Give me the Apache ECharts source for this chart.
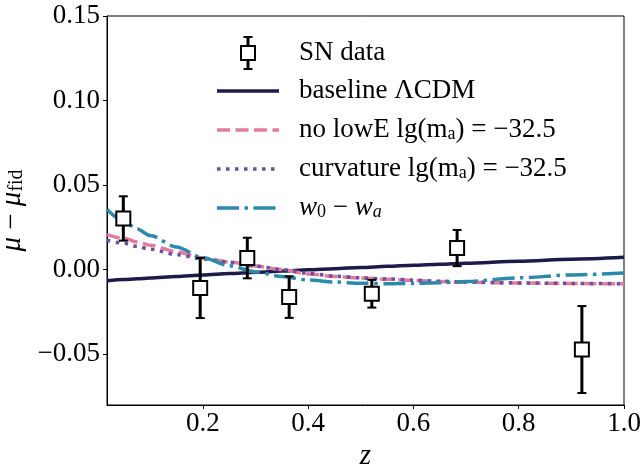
<!DOCTYPE html>
<html><head><meta charset="utf-8">
<script src="https://cdn.jsdelivr.net/npm/echarts@6/dist/echarts.min.js"></script>
<style>html,body{margin:0;padding:0;background:#fff}#c{width:642px;height:464px}</style>
</head><body><div id="c"></div>
<script>
// ---- data ----
const snZ   = [0.049, 0.195, 0.2845, 0.364, 0.521, 0.683, 0.920];
const snMu  = [0.0303, -0.0108, 0.0069, -0.0162, -0.0142, 0.0128, -0.0472];
const snErr = [0.0131, 0.0178, 0.0120, 0.0123, 0.0082, 0.0107, 0.0257];

const zGrid = [0.018, 0.05, 0.075, 0.1, 0.15, 0.2, 0.25, 0.3, 0.35, 0.4, 0.45, 0.5, 0.55, 0.6, 0.65, 0.7, 0.8, 0.9, 1.0];
const baseline = [-0.0065, -0.0058, -0.0054, -0.0049, -0.0040, -0.0031, -0.0023, -0.0015, -0.0008, -0.0001, 0.0006, 0.0013, 0.0020, 0.0026, 0.0032, 0.0038, 0.0050, 0.0062, 0.0073];
const noLowE   = [0.0207, 0.0185, 0.0164, 0.0145, 0.0106, 0.0069, 0.0045, 0.0022, 0.0001, -0.0025, -0.0040, -0.0049, -0.0056, -0.0063, -0.0070, -0.0074, -0.0079, -0.0082, -0.0084];
const curvature= [0.0174, 0.0156, 0.0138, 0.0121, 0.0089, 0.0064, 0.0044, 0.0021, 0.0001, -0.0022, -0.0038, -0.0048, -0.0055, -0.0062, -0.0068, -0.0073, -0.0078, -0.0081, -0.0083];
const w0wa     = [0.0356, 0.0288, 0.0241, 0.0202, 0.0134, 0.0071, 0.0024, -0.0013, -0.0040, -0.0061, -0.0073, -0.0080, -0.0083, -0.0081, -0.0077, -0.0070, -0.0048, -0.0031, -0.0019];

const xTicks = [0.2, 0.4, 0.6, 0.8, 1.0];
const xTickLabels = ['0.2', '0.4', '0.6', '0.8', '1.0'];
const yTicks = [-0.05, 0, 0.05, 0.10, 0.15];
const yTickLabels = ['\u22120.05', '0.00', '0.05', '0.10', '0.15'];

// ---- styling ----
const FONT = 'Liberation Serif';
const C_BASE = '#1b1c4a', C_PINK = '#e57b9c', C_PURP = '#6c4f9f', C_CYAN = '#2b8aab';
const LW = 3.5;

const pair = (xs, ys) => xs.map((x, i) => [x, ys[i]]);
const chart = echarts.init(document.getElementById('c'), null, {renderer: 'canvas'});

const legendRows = [53, 91, 130, 169, 208];
const LX1 = 217, LX2 = 279, TX = 299;
const rich = {
  n: {fontFamily: FONT, fontSize: 27, color: '#000'},
  i: {fontFamily: FONT, fontSize: 27, fontStyle: 'italic', color: '#000'},
  s: {fontFamily: FONT, fontSize: 18, color: '#000', verticalAlign: 'bottom', lineHeight: 22, padding: [14, 0, 0, 0]},
  si: {fontFamily: FONT, fontSize: 18, fontStyle: 'italic', color: '#000', verticalAlign: 'bottom', lineHeight: 22, padding: [14, 0, 0, 0]}
};
const richY = {
  n: {fontFamily: FONT, fontSize: 29, color: '#000'},
  i: {fontFamily: FONT, fontSize: 29, fontStyle: 'italic', color: '#000'},
  s: {fontFamily: FONT, fontSize: 20, color: '#000', verticalAlign: 'bottom', lineHeight: 22, padding: [14, 0, 0, 0]}
};
function legLine(y, color, dash) {
  return {type: 'line', shape: {x1: LX1, y1: y, x2: LX2, y2: y},
    style: {stroke: color, lineWidth: LW, lineDash: dash || null}, z: 100};
}
function legText(y, txt) {
  return {type: 'text', x: TX, y: y, style: {text: txt, rich: rich, verticalAlign: 'middle', align: 'left'}, z: 100};
}
const sy = legendRows[0], sx = (LX1 + LX2) / 2;
const graphics = [
  {type: 'line', shape: {x1: sx, y1: sy - 16, x2: sx, y2: sy + 16}, style: {stroke: '#000', lineWidth: 3}, z: 100},
  {type: 'line', shape: {x1: sx - 4.5, y1: sy - 16, x2: sx + 4.5, y2: sy - 16}, style: {stroke: '#000', lineWidth: 2}, z: 100},
  {type: 'line', shape: {x1: sx - 4.5, y1: sy + 16, x2: sx + 4.5, y2: sy + 16}, style: {stroke: '#000', lineWidth: 2}, z: 100},
  {type: 'rect', shape: {x: sx - 7, y: sy - 7, width: 14, height: 14}, style: {fill: '#fff', stroke: '#000', lineWidth: 2}, z: 101},
  legText(legendRows[0], '{n|SN data}'),
  legLine(legendRows[1], C_BASE),
  legText(legendRows[1], '{n|baseline \u039BCDM}'),
  legLine(legendRows[2], C_PINK, [13, 5.5]),
  legText(legendRows[2], '{n|no lowE lg(m}{s|a}{n|) = \u221232.5}'),
  legLine(legendRows[3], C_PURP, [3.5, 5.5]),
  legText(legendRows[3], '{n|curvature lg(m}{s|a}{n|) = \u221232.5}'),
  legLine(legendRows[4], C_CYAN, [22, 5.5, 3.5, 5.5]),
  legText(legendRows[4], '{i|w}{s|0}{n| \u2212 }{i|w}{si|a}')
];

const option = {
  animation: false,
  backgroundColor: '#fff',
  grid: {left: 107, right: 18, top: 16, bottom: 59, containLabel: false, outerBoundsMode: 'none',
         show: true, borderColor: '#000', borderWidth: 1},
  xAxis: {
    type: 'value', min: 0.018, max: 1.0,
    name: 'z', nameLocation: 'middle', nameGap: 33,
    nameTextStyle: {fontFamily: FONT, fontSize: 29, fontStyle: 'italic', color: '#000'},
    axisLine: {show: true, onZero: false, lineStyle: {color: '#000', width: 1}},
    axisTick: {show: true, inside: false, length: 4, customValues: xTicks, lineStyle: {color: '#000'}},
    axisLabel: {customValues: xTicks, margin: 5, fontFamily: FONT, fontSize: 27, color: '#000',
      formatter: v => { const k = xTicks.findIndex(t => Math.abs(t - v) < 1e-9); return k >= 0 ? xTickLabels[k] : ''; }},
    splitLine: {show: false}
  },
  yAxis: {
    type: 'value', min: -0.08, max: 0.15,
    name: '{i|\u03BC}{n| \u2212 }{i|\u03BC}{s|fid}', nameLocation: 'middle', nameRotate: 90, nameGap: 65,
    nameTextStyle: {rich: richY},
    axisLine: {show: true, onZero: false, lineStyle: {color: '#000', width: 1}},
    axisTick: {show: true, inside: false, length: 4, customValues: yTicks, lineStyle: {color: '#000'}},
    axisLabel: {customValues: yTicks, margin: 7, fontFamily: FONT, fontSize: 27, color: '#000',
      formatter: v => { const k = yTicks.findIndex(t => Math.abs(t - v) < 1e-9); return k >= 0 ? yTickLabels[k] : ''; }},
    splitLine: {show: false}
  },
  graphic: graphics,
  series: [
    {name: 'baseline \u039BCDM', type: 'line', data: pair(zGrid, baseline), showSymbol: false, smooth: 0.3, smoothMonotone: 'x',
     lineStyle: {color: C_BASE, width: LW}, z: 2},
    {name: 'no lowE', type: 'line', data: pair(zGrid, noLowE), showSymbol: false, smooth: 0.3, smoothMonotone: 'x',
     lineStyle: {color: C_PINK, width: LW, type: [13, 5.5]}, z: 3},
    {name: 'curvature', type: 'line', data: pair(zGrid, curvature), showSymbol: false, smooth: 0.3, smoothMonotone: 'x',
     lineStyle: {color: C_PURP, width: LW, type: [3.5, 5.5]}, z: 4},
    {name: 'w0-wa', type: 'line', data: pair(zGrid, w0wa), showSymbol: false, smooth: 0.3, smoothMonotone: 'x',
     lineStyle: {color: C_CYAN, width: LW, type: [22, 5.5, 3.5, 5.5]}, z: 5},
    {name: 'SN err', type: 'custom', z: 10,
     data: snZ.map((z, i) => [z, snMu[i] - snErr[i], snMu[i] + snErr[i]]),
     renderItem: (params, api) => {
       const lo = api.coord([api.value(0), api.value(1)]);
       const hi = api.coord([api.value(0), api.value(2)]);
       const cw = 4.5;
       return {type: 'group', children: [
         {type: 'line', shape: {x1: lo[0], y1: lo[1], x2: hi[0], y2: hi[1]}, style: {stroke: '#000', lineWidth: 3}},
         {type: 'line', shape: {x1: lo[0] - cw, y1: lo[1], x2: lo[0] + cw, y2: lo[1]}, style: {stroke: '#000', lineWidth: 2}},
         {type: 'line', shape: {x1: hi[0] - cw, y1: hi[1], x2: hi[0] + cw, y2: hi[1]}, style: {stroke: '#000', lineWidth: 2}}
       ]};
     }},
    {name: 'SN data', type: 'scatter', z: 11, data: pair(snZ, snMu), symbol: 'rect', symbolSize: 14,
     itemStyle: {color: '#fff', borderColor: '#000', borderWidth: 2, opacity: 1}}
  ]
};
chart.setOption(option);
</script></body></html>
